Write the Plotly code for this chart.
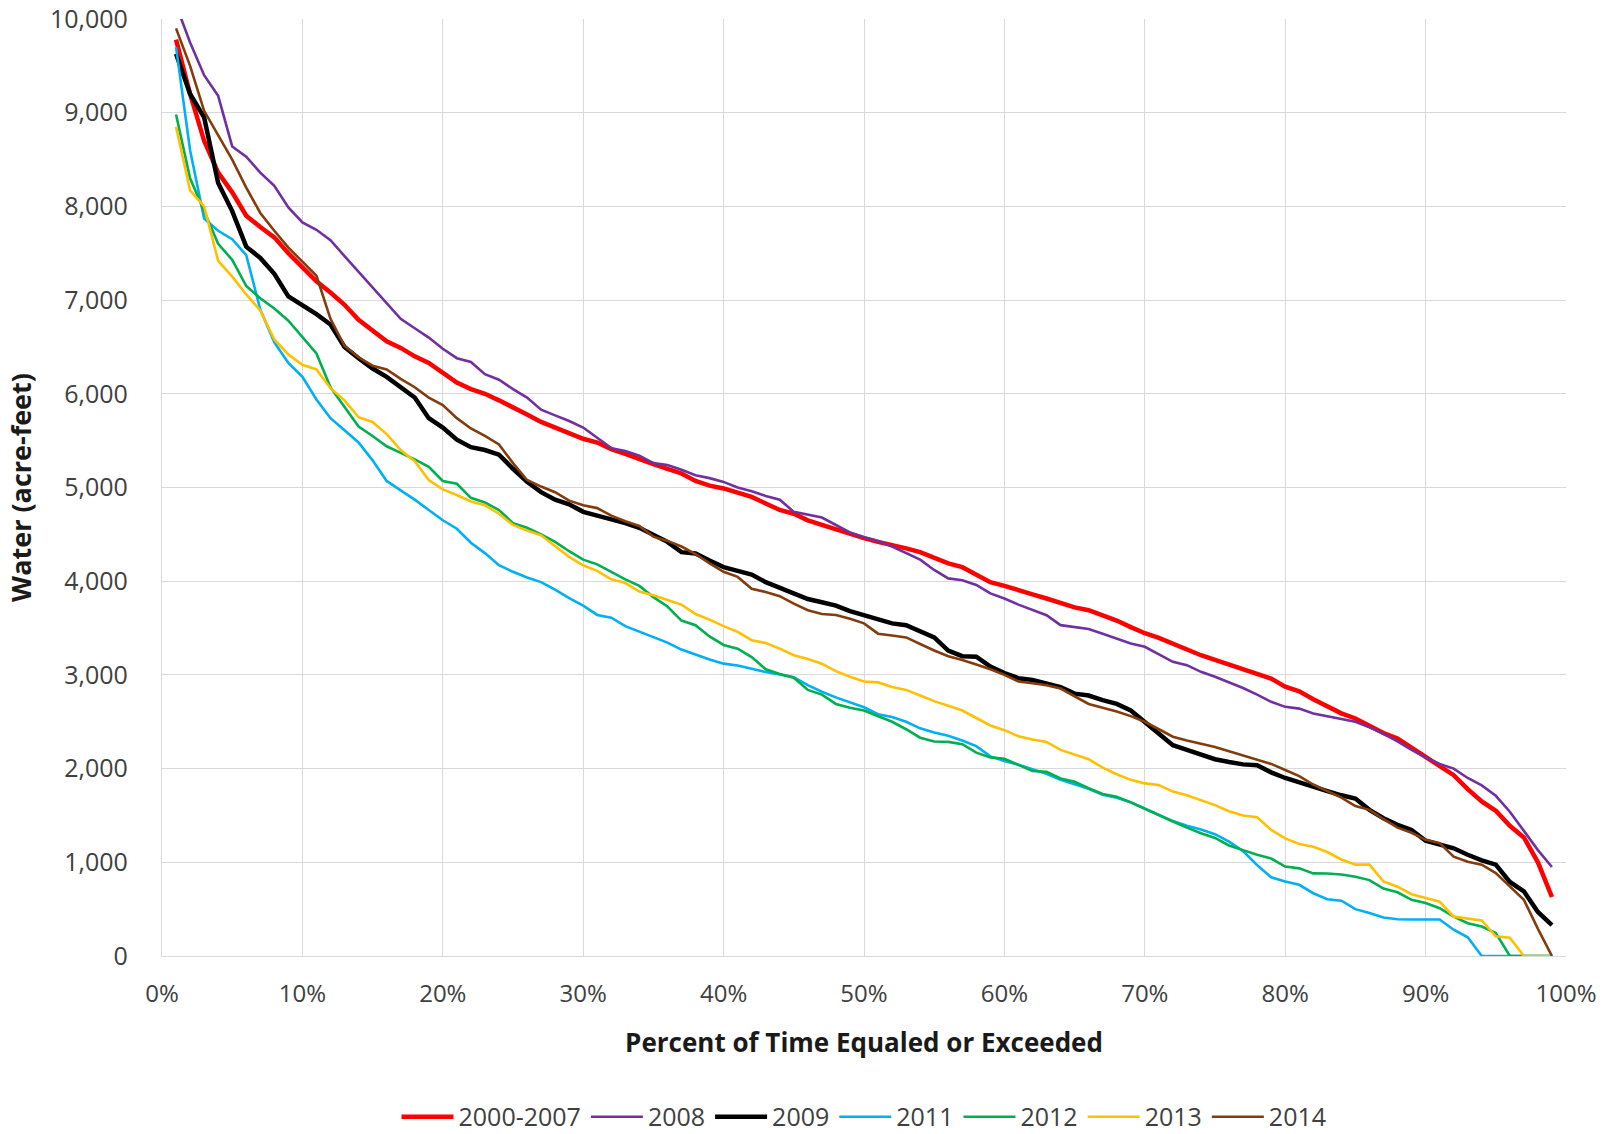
import plotly.graph_objects as go

# Exceedance percentages (x positions, in percent)
PERCENT = list(range(1, 100))

SERIES_NAMES = ["2000-2007", "2008", "2009", "2011", "2012", "2013", "2014"]

water_2000_2007 = [
    9780, 9200, 8700, 8360, 8150, 7900, 7780, 7670, 7500, 7350,
    7200, 7080, 6950, 6790, 6680, 6560, 6490, 6400, 6330, 6220,
    6120, 6050, 6000, 5930, 5860, 5780, 5700, 5640, 5590, 5520,
    5480, 5410, 5360, 5300, 5250, 5200, 5150, 5070, 5020, 4990,
    4950, 4900, 4830, 4760, 4720, 4650, 4600, 4550, 4500, 4460,
    4420, 4390, 4350, 4310, 4250, 4190, 4150, 4070, 3990, 3950,
    3910, 3860, 3815, 3765, 3720, 3690, 3640, 3580, 3510, 3445,
    3395, 3330, 3265, 3210, 3160, 3110, 3065, 3015, 2960, 2875,
    2825, 2740, 2660, 2590, 2535, 2460, 2380, 2320, 2220, 2120,
    2030, 1930, 1780, 1650, 1550, 1390, 1265, 1000, 630,
]

water_2008 = [
    10150, 9750, 9400, 9180, 8640, 8530, 8360, 8220, 7990, 7830,
    7750, 7640, 7470, 7300, 7140, 6970, 6800, 6700, 6600, 6480,
    6380, 6340, 6210, 6150, 6050, 5960, 5830, 5770, 5710, 5640,
    5530, 5420, 5390, 5340, 5260, 5240, 5190, 5130, 5100, 5060,
    5000, 4960, 4910, 4870, 4740, 4710, 4680, 4600, 4520, 4470,
    4430, 4370, 4300, 4230, 4120, 4030, 4010, 3960, 3870, 3815,
    3750, 3690, 3637, 3531, 3510, 3490, 3440, 3390, 3335, 3300,
    3220, 3140, 3104, 3033, 2980, 2920, 2860, 2790, 2713, 2659,
    2640, 2589, 2560, 2535, 2499, 2440, 2370, 2290, 2200, 2120,
    2050, 2000, 1900, 1820, 1710, 1540, 1340, 1130, 950,
]

water_2009 = [
    9630, 9200, 8950, 8250, 7950, 7570, 7450, 7280, 7040, 6950,
    6850, 6740, 6500, 6380, 6270, 6180, 6070, 5960, 5740, 5640,
    5510, 5430, 5400, 5350, 5200, 5060, 4950, 4870, 4820, 4740,
    4700, 4665, 4620, 4570, 4490, 4420, 4310, 4295, 4220, 4150,
    4110, 4070, 3990, 3930, 3860, 3810, 3775, 3740, 3680, 3640,
    3590, 3550, 3530, 3470, 3400, 3260, 3200, 3195, 3090, 3020,
    2965, 2945, 2910, 2870, 2800, 2780, 2730, 2690, 2620, 2500,
    2380, 2250, 2200, 2150, 2100, 2070, 2045, 2035, 1960, 1900,
    1850, 1805, 1760, 1715, 1680, 1560, 1470, 1400, 1345, 1230,
    1190, 1150, 1080, 1020, 975, 790, 690, 470, 330,
]

water_2011 = [
    9700, 8600, 7870, 7740, 7650, 7480, 6900, 6550, 6330, 6180,
    5940, 5740, 5610, 5480, 5290, 5070, 4970, 4870, 4760, 4650,
    4560, 4410, 4300, 4170, 4100, 4040, 3990, 3910, 3820, 3740,
    3640, 3610, 3520, 3460, 3400, 3345, 3270, 3215, 3165, 3120,
    3100, 3065, 3030, 3005, 2975, 2890, 2820, 2760, 2710, 2655,
    2580, 2550, 2500, 2430, 2385, 2350, 2300, 2240, 2130, 2080,
    2040, 1995, 1945, 1880, 1830, 1785, 1720, 1690, 1640, 1575,
    1510, 1440, 1390, 1350, 1300, 1220, 1120, 970, 840, 795,
    760, 670, 605, 590, 500, 460, 410, 392, 390, 390,
    390, 280, 200, 0, 0, 0, 0, 0, 0,
]

water_2012 = [
    8980, 8300, 7950, 7600, 7430, 7150, 7020, 6910, 6780, 6600,
    6430, 6070, 5860, 5650, 5550, 5440, 5370, 5300, 5220, 5070,
    5040, 4890, 4840, 4760, 4620, 4570, 4500, 4420, 4320, 4230,
    4180, 4100, 4020, 3950, 3830, 3730, 3580, 3530, 3410, 3320,
    3280, 3190, 3060, 3010, 2970, 2840, 2790, 2690, 2650, 2620,
    2560, 2500, 2420, 2330, 2290, 2285, 2260, 2170, 2120, 2105,
    2040, 1975, 1965, 1895, 1860, 1790, 1730, 1700, 1640, 1570,
    1500, 1435, 1370, 1310, 1260, 1180, 1130, 1080, 1040, 955,
    935, 882, 880, 870, 845, 810, 720, 680, 600, 565,
    510, 420, 350, 315, 245, 0, 0, 0, 0,
]

water_2013 = [
    8850, 8170, 8000, 7420, 7250, 7060, 6890, 6580, 6420, 6310,
    6260, 6060, 5930, 5750, 5700, 5570, 5400, 5280, 5080, 4980,
    4920, 4850, 4810, 4720, 4600, 4540, 4490, 4370, 4260, 4170,
    4110, 4020, 3980, 3890, 3850, 3800, 3750, 3650, 3590, 3520,
    3460, 3370, 3340, 3280, 3210, 3170, 3120, 3040, 2980, 2930,
    2920, 2870, 2840, 2780, 2720, 2670, 2620, 2540, 2460, 2410,
    2345, 2310, 2285, 2200, 2150, 2100, 2010, 1940, 1880, 1842,
    1825, 1755, 1715, 1660, 1610, 1545, 1500, 1480, 1345, 1255,
    1195, 1165, 1110, 1030, 975, 975, 795, 740, 660, 620,
    580, 420, 400, 380, 210, 195, 0, 0, 0,
]

water_2014 = [
    9900, 9500, 9020, 8760, 8500, 8200, 7930, 7740, 7560, 7410,
    7260, 6800, 6510, 6390, 6300, 6260, 6160, 6070, 5960, 5880,
    5740, 5630, 5550, 5460, 5260, 5080, 5010, 4950, 4860, 4810,
    4780, 4700, 4640, 4590, 4475, 4430, 4370, 4290, 4190, 4100,
    4046, 3920, 3885, 3840, 3760, 3690, 3650, 3640, 3600, 3550,
    3440, 3420, 3400, 3330, 3260, 3200, 3160, 3110, 3060, 3000,
    2930, 2910, 2890, 2855, 2770, 2690, 2650, 2610, 2560, 2500,
    2420, 2340, 2300, 2265, 2230, 2185, 2140, 2100, 2050, 1985,
    1920, 1830, 1760, 1690, 1600, 1560, 1460, 1370, 1315, 1240,
    1205, 1060, 1005, 975, 885, 740, 600, 290, 0,
]

Y_TICKS = [0, 1000, 2000, 3000, 4000, 5000, 6000, 7000, 8000, 9000, 10000]
X_TICKS = [0, 10, 20, 30, 40, 50, 60, 70, 80, 90, 100]
X_TICK_LABELS = ["0%", "10%", "20%", "30%", "40%", "50%",
                 "60%", "70%", "80%", "90%", "100%"]

series_values = [water_2000_2007, water_2008, water_2009, water_2011,
                 water_2012, water_2013, water_2014]
series_colors = ["#FF0000", "#7030A0", "#000000", "#00B0F0",
                 "#00B050", "#FFC000", "#843C0C"]
series_widths = [4.5, 2.6, 4.5, 2.6, 2.6, 2.6, 2.6]

FONT = "Open Sans, Segoe UI, sans-serif"
GRID = "#D9D9D9"
TICK_COLOR = "#404040"
TITLE_COLOR = "#1A1A1A"

fig = go.Figure()
for name, vals, color, width in zip(SERIES_NAMES, series_values,
                                    series_colors, series_widths):
    fig.add_trace(go.Scatter(
        x=PERCENT, y=vals, name=name, mode="lines",
        line=dict(color=color, width=width),
    ))

fig.update_layout(
    width=1610, height=1134,
    margin=dict(l=162, r=44, t=19, b=178),
    paper_bgcolor="white", plot_bgcolor="white",
    font=dict(family=FONT, size=24, color=TICK_COLOR),
    showlegend=True,
    legend=dict(
        orientation="h", x=0.5, xanchor="center",
        y=0.015, yanchor="middle", yref="container",
        font=dict(family=FONT, size=25, color=TICK_COLOR),
        itemwidth=52, traceorder="normal",
    ),
)

fig.update_xaxes(
    range=[0, 100], tickvals=X_TICKS, ticktext=X_TICK_LABELS,
    showgrid=True, gridcolor=GRID, gridwidth=1.3,
    showline=True, linecolor=GRID, linewidth=1.3,
    zeroline=False, ticks="", ticklabelstandoff=16, automargin=False,
    tickfont=dict(family=FONT, size=24, color=TICK_COLOR),
    title=dict(text="<b>Percent of Time Equaled or Exceeded</b>",
               font=dict(family=FONT, size=26, color=TITLE_COLOR),
               standoff=25),
)
fig.update_yaxes(
    range=[0, 10000], tickvals=Y_TICKS, tickformat=",",
    showgrid=True, gridcolor=GRID, gridwidth=1.3,
    showline=True, linecolor=GRID, linewidth=1.3,
    zeroline=False, ticks="", ticklabelstandoff=28, automargin=False,
    tickfont=dict(family=FONT, size=25, color=TICK_COLOR),
    title=dict(text="<b>Water (acre-feet)</b>",
               font=dict(family=FONT, size=27, color=TITLE_COLOR),
               standoff=10),
)

fig.write_html("out.html")
